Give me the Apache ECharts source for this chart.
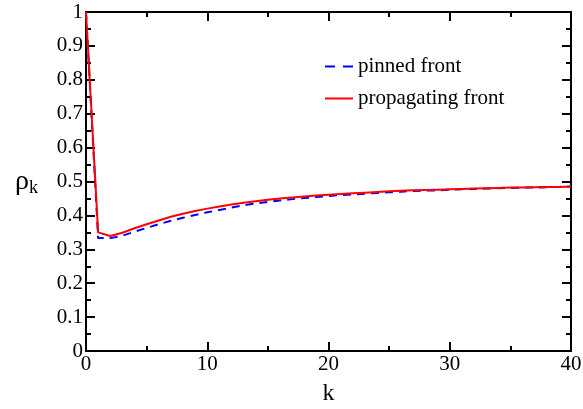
<!DOCTYPE html>
<html>
<head>
<meta charset="utf-8">
<script src="https://cdn.jsdelivr.net/npm/echarts@6/dist/echarts.min.js"></script>
<style>
  html, body { margin: 0; padding: 0; background: #fff; }
  #chart { width: 583px; height: 409px; }
</style>
</head>
<body>
<div id="chart"></div>
<script>
const ks = [];
for (let k = 0; k <= 40; k++) ks.push(k);

const pinned = [
  1.0, 0.333, 0.333, 0.340, 0.352, 0.363, 0.374, 0.384, 0.393, 0.401,
  0.409, 0.416, 0.423, 0.430, 0.435, 0.440, 0.444, 0.448, 0.451, 0.454,
  0.457, 0.460, 0.462, 0.464, 0.466, 0.468, 0.470, 0.472, 0.473, 0.474,
  0.476, 0.477, 0.478, 0.479, 0.480, 0.481, 0.482, 0.482, 0.483, 0.484,
  0.485,
];

const propagating = [
  1.0, 0.350, 0.339, 0.349, 0.362, 0.374, 0.385, 0.396, 0.405, 0.413,
  0.420, 0.426, 0.432, 0.437, 0.442, 0.446, 0.450, 0.453, 0.456, 0.459,
  0.461, 0.463, 0.465, 0.467, 0.469, 0.471, 0.473, 0.474, 0.475, 0.476,
  0.477, 0.478, 0.479, 0.480, 0.481, 0.482, 0.482, 0.483, 0.484, 0.484,
  0.485,
];

const font = "Liberation Serif, serif";
const chart = echarts.init(document.getElementById("chart"));

// frame: every side gets inward ticks, only bottom/left carry labels
const frameAxis = {
  min: 0,
  axisLine: { show: true, onZero: false, lineStyle: { color: "#000", width: 2 } },
  axisTick: { show: true, inside: true, length: 9, lineStyle: { color: "#000", width: 2 } },
  minorTick: { show: true, splitNumber: 2, length: 5, lineStyle: { color: "#000", width: 2 } },
  splitLine: { show: false },
};

chart.setOption({
  animation: false,
  backgroundColor: "#fff",
  textStyle: { fontFamily: font, color: "#000" },
  grid: { left: 86, right: 12, top: 12, bottom: 58, outerBoundsMode: "none" },
  legend: {
    orient: "vertical",
    left: 320,
    top: 51,
    itemWidth: 28,
    itemHeight: 2,
    itemGap: 11,
    textStyle: { fontFamily: font, fontSize: 21, color: "#000" },
    data: [
      { name: "pinned front", icon: "path://M0,0h10v2h-10z M18,0h10v2h-10z" },
      { name: "propagating front", icon: "rect" },
    ],
  },
  xAxis: [
    {
      ...frameAxis,
      type: "value",
      max: 40,
      interval: 10,
      name: "k",
      nameLocation: "middle",
      nameGap: 31,
      nameTextStyle: { fontFamily: font, fontSize: 24, color: "#000" },
      axisLabel: { fontFamily: font, fontSize: 21, color: "#000", margin: 3 },
    },
    {
      ...frameAxis,
      type: "value",
      position: "top",
      max: 40,
      interval: 10,
      axisLabel: { show: false },
    },
  ],
  yAxis: [
    {
      ...frameAxis,
      type: "value",
      max: 1,
      interval: 0.1,
      name: "{r|ρ}{s|k}",
      nameLocation: "middle",
      nameRotate: 0,
      nameGap: 48,
      nameTextStyle: {
        rich: {
          r: { fontFamily: font, fontSize: 28, color: "#000" },
          s: { fontFamily: font, fontSize: 18, color: "#000", padding: [14, 0, 0, 0] },
        },
      },
      axisLabel: { fontFamily: font, fontSize: 21, color: "#000", margin: 3 },
    },
    {
      ...frameAxis,
      type: "value",
      position: "right",
      max: 1,
      interval: 0.1,
      axisLabel: { show: false },
    },
  ],
  series: [
    {
      name: "pinned front",
      type: "line",
      data: ks.map((k, i) => [k, pinned[i]]),
      symbol: "none",
      lineStyle: { color: "#0000ff", width: 2, type: [8, 6] },
      itemStyle: { color: "#0000ff" },
      z: 2,
    },
    {
      name: "propagating front",
      type: "line",
      data: ks.map((k, i) => [k, propagating[i]]),
      symbol: "none",
      lineStyle: { color: "#ff0000", width: 2 },
      itemStyle: { color: "#ff0000" },
      z: 3,
    },
  ],
});
</script>
</body>
</html>
